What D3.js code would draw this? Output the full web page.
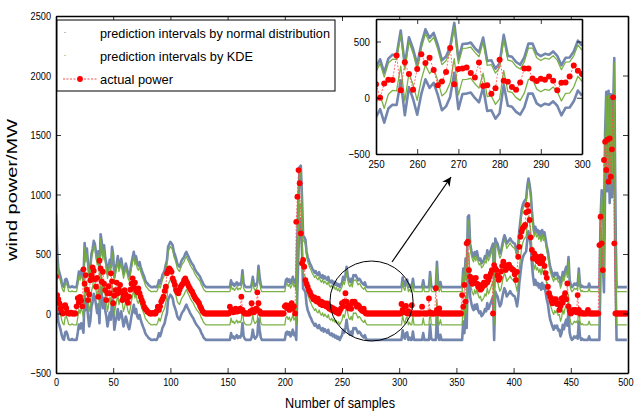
<!DOCTYPE html>
<html>
<head>
<meta charset="utf-8">
<script src="https://cdn.jsdelivr.net/npm/d3@7"></script>
<style>
body { margin: 0; background: #fff; }
svg { display: block; }
text { font-family: "Liberation Sans", Arial, sans-serif; fill: #000; }
</style>
</head>
<body>
<svg id="chart" width="636" height="416"></svg>
<script>
// actual wind power, one value per sample (0..499)
const actualPower = [
  309,155,120,86,40,10,0,62,70,45,
  5,0,0,8,0,0,0,0,60,130,
  95,140,110,60,371,250,323,200,113,160,
  280,320,388,360,290,225,300,140,444,380,
  267,351,250,197,113,170,230,170,338,270,
  86,150,197,260,170,200,240,180,113,150,
  197,160,113,90,141,200,250,296,225,260,
  197,180,210,170,140,113,90,57,40,30,
  15,10,0,0,0,5,0,0,20,57,
  30,60,100,120,141,190,225,338,360,380,
  367,350,296,270,240,197,180,170,200,225,
  240,253,280,296,270,253,230,212,195,183,
  160,141,125,113,100,86,60,43,20,10,
  0,0,0,0,0,0,0,0,0,0,
  0,0,0,0,0,0,0,0,0,0,
  0,0,57,20,30,10,25,40,15,30,
  20,40,141,30,10,0,0,0,0,0,
  20,86,30,10,22,40,178,86,20,0,
  0,0,0,0,0,0,0,0,0,0,
  0,0,0,0,0,0,0,0,0,0,
  60,70,45,65,30,50,86,40,60,0,
  770,982,1205,1095,674,422,450,393,281,250,
  226,197,180,155,140,120,135,110,100,125,
  95,80,100,70,90,75,60,85,50,40,
  55,30,45,20,35,10,25,0,20,40,
  86,60,100,170,100,57,43,70,40,100,
  95,100,80,57,70,60,40,30,20,40,
  10,0,0,0,0,0,0,0,0,0,
  0,0,0,0,0,0,0,0,0,0,
  0,0,0,0,0,0,0,0,0,0,
  0,0,80,30,10,57,63,0,20,0,
  0,70,0,0,0,0,0,0,0,0,
  57,0,0,0,0,0,127,10,0,0,
  0,0,212,30,0,43,0,0,0,0,
  0,0,0,0,0,0,0,0,0,0,
  0,0,0,0,0,155,57,240,100,590,
  603,365,309,270,250,295,260,300,250,225,
  240,200,211,230,260,240,309,260,282,310,
  338,365,0,407,380,365,320,282,300,352,
  400,435,410,365,380,393,410,390,380,370,
  365,330,282,350,477,560,645,690,716,730,
  744,850,912,860,786,640,534,463,506,460,
  480,440,470,422,480,430,460,400,340,300,
  225,170,140,110,86,120,100,120,80,86,
  30,60,127,90,140,170,120,253,60,20,
  0,10,30,20,30,10,155,30,0,10,
  0,0,0,0,0,30,0,0,0,0,
  0,0,0,0,0,575,813,590,365,1290,
  1444,1206,1460,1108,1472,1150,1380,1817,590,0,
  0,0,0,0,0,0,0,0,0,0
];

const forecastPower = [
  620,309,155,120,86,40,10,0,62,70,
  45,5,0,0,8,0,0,0,0,60,
  130,95,140,110,60,371,250,323,200,113,
  160,280,320,388,360,290,225,300,140,444,
  380,267,351,250,197,113,170,230,170,338,
  270,86,150,197,260,170,200,240,180,113,
  150,197,160,113,90,141,200,250,296,225,
  260,197,180,210,170,140,113,90,57,40,
  30,15,10,0,0,0,5,0,0,20,
  57,30,60,100,120,141,190,225,338,360,
  380,367,350,296,270,240,197,180,170,200,
  225,240,253,280,296,270,253,230,212,195,
  183,160,141,125,113,100,86,60,43,20,
  10,0,0,0,0,0,0,0,0,0,
  0,0,0,0,0,0,0,0,0,0,
  0,0,0,57,20,30,10,25,40,15,
  30,20,40,141,30,10,0,0,0,0,
  0,20,86,30,10,22,40,178,86,20,
  0,0,0,0,0,0,0,0,0,0,
  0,0,0,0,0,0,0,0,0,0,
  0,60,70,45,65,30,50,86,40,60,
  0,420,760,1010,1020,760,430,420,400,300,
  250,226,197,180,155,140,120,135,110,100,
  125,95,80,100,70,90,75,60,85,50,
  40,55,30,45,20,35,10,25,0,20,
  40,86,60,100,170,100,57,43,70,40,
  100,95,100,80,57,70,60,40,30,20,
  40,10,0,0,0,0,0,0,0,0,
  0,0,0,0,0,0,0,0,0,0,
  0,0,0,0,0,0,0,0,0,0,
  0,0,0,80,30,10,57,63,0,20,
  0,0,70,0,0,0,0,0,0,0,
  0,57,0,0,0,0,0,127,10,0,
  0,0,0,212,30,0,43,0,0,0,
  0,0,0,0,0,0,0,0,0,0,
  0,0,0,0,0,0,155,57,240,100,
  590,603,365,309,270,250,295,260,300,250,
  225,240,200,211,230,260,240,309,260,282,
  310,338,365,0,407,380,365,320,282,300,
  352,400,435,410,365,380,393,410,390,380,
  370,365,330,282,350,477,560,645,690,716,
  730,744,850,912,860,786,640,534,463,506,
  460,480,440,470,422,480,430,460,400,340,
  300,225,170,140,110,86,120,100,120,80,
  86,30,60,127,90,140,170,120,253,60,
  20,0,10,30,20,30,10,155,30,0,
  10,0,0,0,0,0,30,0,0,0,
  0,0,0,0,0,0,575,813,650,400,
  1300,1640,1250,1650,1150,1620,1200,1500,1925,600,
  0,0,0,0,0,0,0,0,0,0
];

// interval offsets around the forecast (MW)
const normalInterval = [-222, 222];
const kdeInterval = [-95, 183];

// zoomed window, samples 250..300
const insetStart = 250;
const insetActual = [
  120,0,126,160,157,376,66,316,211,72,
  256,386,310,355,247,111,145,229,443,120,
  256,259,268,220,181,313,105,111,36,84,
  337,151,142,96,72,136,259,259,172,148,
  169,160,190,151,66,133,136,190,286,241,
  211
];
const insetForecast = [
  49,120,0,126,160,157,376,66,316,211,
  72,256,386,310,355,247,111,145,229,443,
  120,256,259,268,220,181,313,105,111,36,
  84,337,151,142,96,72,136,259,259,172,
  148,169,160,190,151,66,133,136,190,286,
  241
];

const xTicks = [0, 50, 100, 150, 200, 250, 300, 350, 400, 450, 500];
const yTicks = [-500, 0, 500, 1000, 1500, 2000, 2500];
const insetXTicks = [250, 260, 270, 280, 290, 300];
const insetYTicks = [-500, 0, 500];
const legendLabels = ["prediction intervals by normal distribution", "prediction intervals by KDE", "actual power"];

const BLUE = "#6c80aa", GREEN = "#74ad3c", RED = "#ff0000";

const svg = d3.select("#chart");
svg.append("rect").attr("width", 636).attr("height", 416).attr("fill", "#fff");

function drawPanel(g, x, y, start, actual, forecast, clipId, r) {
    let [x0, x1] = x.range(), [y0, y1] = y.range();
    g.append("clipPath").attr("id", clipId)
      .append("rect").attr("x", x0).attr("y", y1).attr("width", x1 - x0).attr("height", y0 - y1);
    let plot = g.append("g").attr("clip-path", "url(#" + clipId + ")");

    function band(off, color, w) {
        let line = d3.line().x((d, i) => x(start + i)).y(d => y(d + off));
        plot.append("path").datum(forecast).attr("d", line)
          .attr("fill", "none").attr("stroke", color).attr("stroke-width", w)
          .attr("stroke-linejoin", "round").attr("stroke-opacity", 0.95);
    }
    normalInterval.forEach(o => band(o, BLUE, 2.6));
    kdeInterval.forEach(o => band(o, GREEN, 1.3));

    let actLine = d3.line().x((d, i) => x(start + i)).y(d => y(d));
    plot.append("path").datum(actual).attr("d", actLine)
      .attr("fill", "none").attr("stroke", "#ff4a4a").attr("stroke-width", 1)
      .attr("stroke-dasharray", "2,1.5").attr("stroke-opacity", 0.8);
    plot.selectAll("circle.pt").data(actual).enter().append("circle")
      .attr("class", "pt")
      .attr("cx", (d, i) => x(start + i)).attr("cy", d => y(d))
      .attr("r", r).attr("fill", RED);
}

function drawFrame(g, x, y, xt, yt, fs, cw, pad) {
    let [x0, x1] = x.range(), [y0, y1] = y.range();
    let fmt = d3.format("d");
    g.append("g").attr("class", "xaxis").attr("transform", "translate(0," + y0 + ")")
      .call(d3.axisBottom(x).tickValues(xt).tickFormat(fmt).tickSize(-5).tickSizeOuter(0).tickPadding(pad));
    g.append("g").attr("transform", "translate(0," + y1 + ")")
      .call(d3.axisTop(x).tickValues(xt).tickSize(-5).tickSizeOuter(0).tickFormat(""));
    g.append("g").attr("transform", "translate(" + x0 + ",0)")
      .call(d3.axisLeft(y).tickValues(yt).tickFormat(fmt).tickSize(-5).tickSizeOuter(0).tickPadding(pad));
    g.append("g").attr("transform", "translate(" + x1 + ",0)")
      .call(d3.axisRight(y).tickValues(yt).tickSize(-5).tickSizeOuter(0).tickFormat(""));
    g.selectAll(".domain").attr("stroke", "#000").attr("stroke-width", 1.6);
    g.selectAll(".tick line").attr("stroke", "#000").attr("stroke-width", 0.8);
    // narrow MATLAB-style digits
    g.selectAll(".tick text").attr("font-size", fs)
      .style("font-family", '"Liberation Sans", Arial, sans-serif')
      .each(function() {
          let t = this.textContent;
          if (t) d3.select(this).attr("textLength", t.length * cw).attr("lengthAdjust", "spacingAndGlyphs");
      });
}

// main chart
const x = d3.scaleLinear().domain([0, 500]).range([56, 628]);
const y = d3.scaleLinear().domain([-500, 2500]).range([373, 16]);
const main = svg.append("g");
drawPanel(main, x, y, 0, actualPower, forecastPower, "clipMain", 2.9);
drawFrame(main, x, y, xTicks, yTicks, 11.5, 5.1, 5);
// last x label sits against the page edge: keep it inside
main.selectAll(".xaxis .tick text").filter(d => d === 500)
  .attr("text-anchor", "end").attr("x", 5);

svg.append("text").attr("x", 340).attr("y", 408).attr("text-anchor", "middle")
  .attr("font-size", 14).attr("textLength", 110).attr("lengthAdjust", "spacingAndGlyphs")
  .text("Number of samples");
svg.append("text").attr("transform", "translate(17,190) rotate(-90)").attr("text-anchor", "middle")
  .attr("font-size", 14).attr("textLength", 142).attr("lengthAdjust", "spacingAndGlyphs")
  .text("wind power/MW");

// legend
const leg = svg.append("g");
leg.append("rect").attr("x", 57).attr("y", 20).attr("width", 278).attr("height", 71)
  .attr("fill", "#fff").attr("stroke", "#000").attr("stroke-width", 1);
const legW = [230, 153, 73];
legendLabels.forEach((t, i) => {
    leg.append("text").attr("x", 100).attr("y", 38 + i * 23)
      .attr("font-size", 13.5).attr("textLength", legW[i]).attr("lengthAdjust", "spacingAndGlyphs")
      .text(t);
});
leg.append("rect").attr("x", 64.5).attr("y", 32).attr("width", 1).attr("height", 1).attr("fill", BLUE);
leg.append("rect").attr("x", 64.5).attr("y", 55).attr("width", 1).attr("height", 1).attr("fill", GREEN);
leg.append("line").attr("x1", 63).attr("x2", 97).attr("y1", 79).attr("y2", 79)
  .attr("stroke", "#ff4a4a").attr("stroke-width", 1).attr("stroke-dasharray", "2,1.5");
leg.append("circle").attr("cx", 80).attr("cy", 79).attr("r", 2.9).attr("fill", RED);

// zoom marker: ellipse around samples 240..310 and arrow to the inset
svg.append("ellipse").attr("cx", x(275.8)).attr("cy", y(105))
  .attr("rx", x(275.8 + 36.3) - x(275.8)).attr("ry", y(105) - y(105 + 336))
  .attr("fill", "none").attr("stroke", "#000").attr("stroke-width", 1);
svg.append("defs").append("marker").attr("id", "arr")
  .attr("viewBox", "0 0 10 10").attr("refX", 10).attr("refY", 5)
  .attr("markerWidth", 9).attr("markerHeight", 9).attr("orient", "auto")
  .attr("markerUnits", "userSpaceOnUse")
  .append("path").attr("d", "M0,0 L10,5 L0,10 L3,5 Z").attr("fill", "#000");
svg.append("line").attr("x1", x(293.7)).attr("y1", y(433)).attr("x2", x(345.3)).attr("y2", y(1147))
  .attr("stroke", "#000").attr("stroke-width", 1.2).attr("marker-end", "url(#arr)");

// inset
const xi = d3.scaleLinear().domain([250, 300]).range([376, 582]);
const yi = d3.scaleLinear().domain([-500, 700]).range([154, 19]);
const inset = svg.append("g");
inset.append("rect").attr("x", 376).attr("y", 19).attr("width", 206).attr("height", 135).attr("fill", "#fff");
drawPanel(inset, xi, yi, insetStart, insetActual, insetForecast, "clipInset", 3);
drawFrame(inset, xi, yi, insetXTicks, insetYTicks, 11.5, 5.4, 6);
</script>
</body>
</html>
